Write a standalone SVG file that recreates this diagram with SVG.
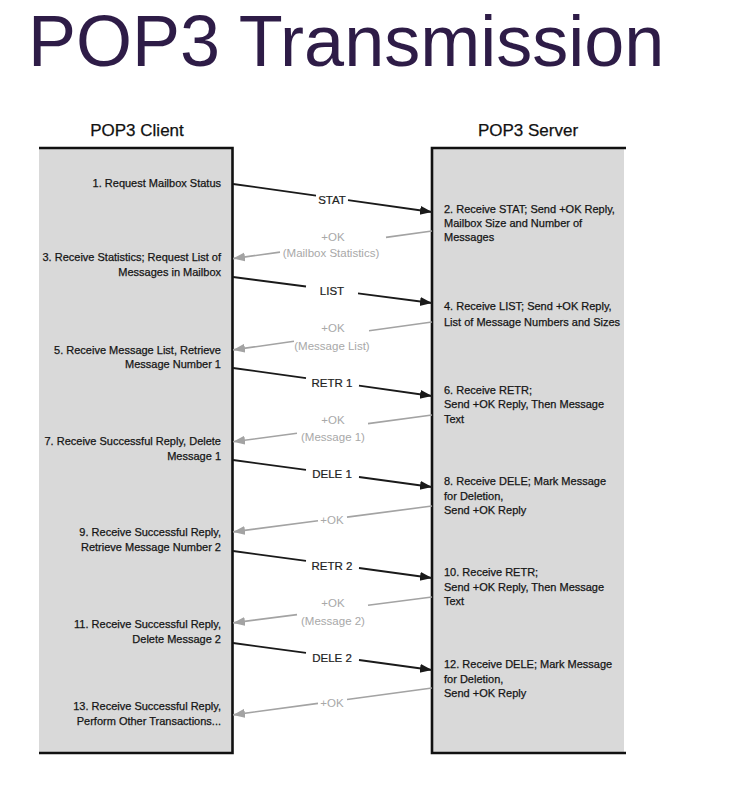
<svg xmlns="http://www.w3.org/2000/svg" width="734" height="795" viewBox="0 0 734 795">
<style>
  .title { font-family: "Liberation Sans", Arial, sans-serif; font-size: 72px; fill: #2e1c47; }
  .hdr { font-family: "Liberation Sans", Arial, sans-serif; font-size: 17px; fill: #111; stroke: #111; stroke-width: 0.25; text-anchor: middle; }
  .t { font-family: "Liberation Sans", Arial, sans-serif; font-size: 11px; fill: #151515; stroke: #151515; stroke-width: 0.25; }
  .l { text-anchor: end; }
  .lbl { font-family: "Liberation Sans", Arial, sans-serif; font-size: 11.5px; fill: #222; stroke: #222; stroke-width: 0.2; text-anchor: middle; }
  .glbl { font-family: "Liberation Sans", Arial, sans-serif; font-size: 11.5px; fill: #a8a8a8; text-anchor: middle; }
  .box { fill: #d9d9d9; stroke: none; }
  .edge { stroke: #111; stroke-width: 2.6; fill: none; }
  .req { stroke: #1a1a1a; stroke-width: 1.8; fill: none; marker-end: url(#ab); }
  .rep { stroke: #a3a3a3; stroke-width: 1.6; fill: none; marker-end: url(#ag); }
</style>
<defs>
  <marker id="ab" markerUnits="userSpaceOnUse" markerWidth="13" markerHeight="10" refX="12" refY="4.5" orient="auto">
    <path d="M0,0 L12,4.5 L0,9 z" fill="#1a1a1a"/>
  </marker>
  <marker id="ag" markerUnits="userSpaceOnUse" markerWidth="13" markerHeight="10" refX="12" refY="4.5" orient="auto">
    <path d="M0,0 L12,4.5 L0,9 z" fill="#a3a3a3"/>
  </marker>
</defs>
<rect width="734" height="795" fill="#fff"/>
<text class="title" x="28" y="66">POP3 Transmission</text>

<g id="client">
  <rect class="box" x="39" y="148" width="193" height="605"/>
  <path class="edge" d="M39,148 H232.5 V753 H39"/>
  <text class="hdr" x="137" y="136">POP3 Client</text>
</g>
<g id="server">
  <rect class="box" x="432" y="148" width="192" height="605"/>
  <path class="edge" d="M626,148 H432 V753 H626"/>
  <text class="hdr" x="528" y="136">POP3 Server</text>
</g>

<g id="step1"><text class="t l" x="221" y="187">1. Request Mailbox Status</text></g>
<g id="step2"><text class="t" x="444" y="213">2. Receive STAT; Send +OK Reply,<tspan x="444" y="227">Mailbox Size and Number of</tspan><tspan x="444" y="241">Messages</tspan></text></g>
<g id="step3"><text class="t l" x="221" y="261">3. Receive Statistics; Request List of<tspan x="221" y="276">Messages in Mailbox</tspan></text></g>
<g id="step4"><text class="t" x="444" y="310">4. Receive LIST; Send +OK Reply,<tspan x="444" y="326">List of Message Numbers and Sizes</tspan></text></g>
<g id="step5"><text class="t l" x="221" y="354">5. Receive Message List, Retrieve<tspan x="221" y="368">Message Number 1</tspan></text></g>
<g id="step6"><text class="t" x="444" y="394">6. Receive RETR;<tspan x="444" y="408">Send +OK Reply, Then Message</tspan><tspan x="444" y="423">Text</tspan></text></g>
<g id="step7"><text class="t l" x="221" y="445">7. Receive Successful Reply, Delete<tspan x="221" y="460">Message 1</tspan></text></g>
<g id="step8"><text class="t" x="444" y="485">8. Receive DELE; Mark Message<tspan x="444" y="500">for Deletion,</tspan><tspan x="444" y="514">Send +OK Reply</tspan></text></g>
<g id="step9"><text class="t l" x="221" y="536">9. Receive Successful Reply,<tspan x="221" y="551">Retrieve Message Number 2</tspan></text></g>
<g id="step10"><text class="t" x="444" y="576">10. Receive RETR;<tspan x="444" y="591">Send +OK Reply, Then Message</tspan><tspan x="444" y="605">Text</tspan></text></g>
<g id="step11"><text class="t l" x="221" y="628">11. Receive Successful Reply,<tspan x="221" y="643">Delete Message 2</tspan></text></g>
<g id="step12"><text class="t" x="444" y="668">12. Receive DELE; Mark Message<tspan x="444" y="683">for Deletion,</tspan><tspan x="444" y="697">Send +OK Reply</tspan></text></g>
<g id="step13"><text class="t l" x="221" y="710">13. Receive Successful Reply,<tspan x="221" y="725">Perform Other Transactions...</tspan></text></g>

<g id="connectors">
  <path class="req" d="M233,184 L316,195.6 M348,200.1 L432,212"/>
  <text class="lbl" x="332" y="204">STAT</text>

  <path class="rep" d="M432,231 L386,237.4 M280,252.1 L233,258.6"/>
  <text class="glbl" x="333" y="241">+OK</text>
  <text class="glbl" x="331" y="257">(Mailbox Statistics)</text>

  <path class="req" d="M233,277 L306,286.5 M358,293.4 L432,303"/>
  <text class="lbl" x="332" y="295">LIST</text>

  <path class="rep" d="M432,322 L369,330.8 M294,341.3 L233,349.9"/>
  <text class="glbl" x="333" y="332">+OK</text>
  <text class="glbl" x="332" y="350">(Message List)</text>

  <path class="req" d="M233,368 L306,378.2 M359,385.7 L432,396"/>
  <text class="lbl" x="332" y="387">RETR 1</text>

  <path class="rep" d="M432,415 L368,423.6 M297,433.2 L233,441.8"/>
  <text class="glbl" x="333" y="424">+OK</text>
  <text class="glbl" x="333" y="441">(Message 1)</text>

  <path class="req" d="M233,460 L306,469.9 M359,477 L432,487"/>
  <text class="lbl" x="332" y="478">DELE 1</text>

  <path class="rep" d="M432,506 L347,517.1 M318,520.8 L233,531.9"/>
  <text class="glbl" x="332" y="524">+OK</text>

  <path class="req" d="M233,551 L306,560.9 M359,568 L432,578"/>
  <text class="lbl" x="332" y="570">RETR 2</text>

  <path class="rep" d="M432,597 L368,605.3 M297,614.6 L233,622.9"/>
  <text class="glbl" x="333" y="607">+OK</text>
  <text class="glbl" x="333" y="625">(Message 2)</text>

  <path class="req" d="M233,643 L306,652.9 M359,660 L432,670"/>
  <text class="lbl" x="332" y="662">DELE 2</text>

  <path class="rep" d="M432,688 L347,699.5 M318,703.4 L233,714.9"/>
  <text class="glbl" x="332" y="707">+OK</text>
</g>
</svg>
